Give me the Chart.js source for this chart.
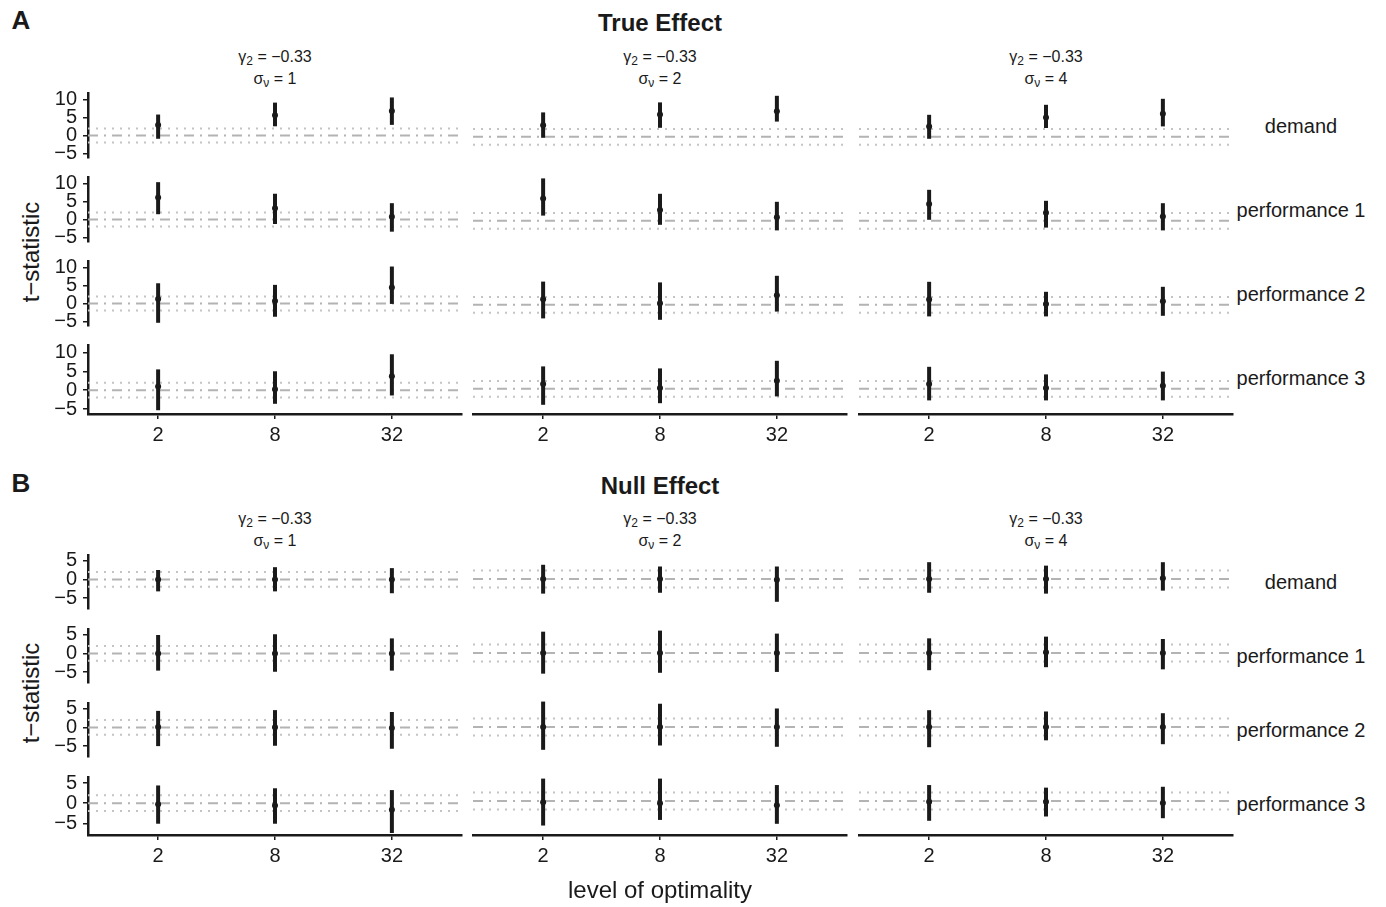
<!DOCTYPE html>
<html>
<head>
<meta charset="utf-8">
<script src="https://cdn.jsdelivr.net/npm/chart.js@4"></script>
<style>
  body { margin: 0; background: #fff; }
  #fig { position: relative; width: 1386px; height: 907px; overflow: hidden;
         font-family: "Liberation Sans", Arial, Helvetica, sans-serif; color: #1a1a1a; }
  .panel { position: absolute; }
  .lbl { position: absolute; transform: translate(-50%, -50%); white-space: nowrap; line-height: 1; }
  .tag { font-weight: bold; font-size: 26px; }
  .title { font-weight: bold; font-size: 24px; }
  .strip { font-size: 16px; }
  .strip sub { font-size: 12px; vertical-align: -3px; line-height: 0; }
  .row { font-size: 20px; }
  .axis { font-size: 24px; }
</style>
</head>
<body>
<div id="fig"></div>
<script>
// categories and facet labels
const xLabels = ['2', '8', '32'];
const rowNames = ['demand', 'performance 1', 'performance 2', 'performance 3'];
const gammaValue = '−0.33';
const sigmaValues = [1, 2, 4];
const yTicksTrue = [-5, 0, 5, 10];
const yTicksNull = [-5, 0, 5];
const critical = 1.96;

// t-statistics, indexed [column][row][level of optimality]
const trueEst = [
  [[3.0, 5.7, 6.9], [6.2, 3.2, 0.8], [1.25, 0.7, 4.5], [1.0, 0.25, 3.7]],
  [[2.9, 5.6, 6.4], [5.6, 2.7, 0.9], [1.4, 0.4, 2.4], [1.2, 0.2, 2.0]],
  [[2.6, 4.8, 5.75], [4.2, 2.0, 1.1], [1.3, 0.2, 0.9], [1.2, 0.2, 0.75]]
];
const trueLow = [
  [[-0.9, 2.6, 3.0], [1.5, -1.25, -3.4], [-5.4, -3.7, -0.1], [-5.3, -3.6, -1.4]],
  [[-0.25, 2.25, 3.8], [1.3, -1.0, -2.4], [-3.4, -3.75, -1.7], [-4.0, -3.6, -1.9]],
  [[-0.5, 2.2, 2.6], [0.25, -1.7, -2.4], [-2.9, -2.9, -2.75], [-2.9, -2.9, -2.9]]
];
const trueHigh = [
  [[5.9, 9.25, 10.7], [10.5, 7.25, 4.6], [5.7, 5.25, 10.4], [5.5, 5.0, 9.5]],
  [[6.1, 8.6, 10.25], [10.6, 6.75, 4.75], [5.8, 5.6, 7.25], [5.6, 5.1, 7.0]],
  [[5.5, 8.0, 9.5], [7.75, 5.0, 4.4], [5.75, 3.25, 4.5], [5.5, 3.6, 4.3]]
];
const nullEst = [
  [[0, 0, 0], [0, 0, 0], [0.1, 0.05, -0.15], [-0.25, -0.6, -1.6]],
  [[0, 0, -0.15], [0, 0, 0], [0, 0, 0], [-0.3, -0.55, -1.0]],
  [[0, 0, 0.15], [0, 0.15, 0], [0, 0, 0], [-0.15, -0.15, -0.45]]
];
const nullLow = [
  [[-3.2, -3.2, -3.7], [-4.6, -4.9, -4.6], [-5.0, -4.9, -5.7], [-5.1, -5.1, -7.4]],
  [[-3.4, -3.2, -5.3], [-4.8, -4.6, -4.4], [-5.3, -4.3, -4.6], [-5.7, -4.4, -5.3]],
  [[-3.2, -3.4, -2.7], [-4.0, -3.3, -3.8], [-4.7, -3.1, -4.0], [-4.6, -3.6, -4.0]]
];
const nullHigh = [
  [[2.5, 3.25, 3.0], [4.9, 5.1, 4.0], [4.4, 4.6, 4.1], [4.4, 3.7, 3.25]],
  [[3.3, 2.9, 2.9], [4.95, 5.2, 4.5], [5.9, 5.4, 4.3], [5.2, 5.2, 3.7]],
  [[3.9, 3.1, 3.9], [3.4, 3.8, 3.25], [3.9, 3.6, 3.2], [3.7, 3.1, 3.3]]
];

// layout
const INK = '#1a1a1a';
const FONT = '"Liberation Sans", Arial, Helvetica, sans-serif';
const X_MIN = -0.6, X_MAX = 2.6;
const PANEL_W = 374;
const colLefts = [88, 473, 859];
const PAD = 14, AX_W = 50, AX_H = 36;

const sections = [
  { tag: 'A', title: 'True Effect', est: trueEst, low: trueLow, high: trueHigh,
    ticks: yTicksTrue, yMin: -6.3, yMax: 11.95, top: 89, h: 73, pitch: 84,
    tagY: 20, titleY: 23, stripY: 57 },
  { tag: 'B', title: 'Null Effect', est: nullEst, low: nullLow, high: nullHigh,
    ticks: yTicksNull, yMin: -7.9, yMax: 6.5, top: 551, h: 62, pitch: 74,
    tagY: 483, titleY: 486, stripY: 519 }
];

const fig = document.getElementById('fig');

function label(html, x, y, cls, extra) {
  const d = document.createElement('div');
  d.className = 'lbl ' + cls;
  d.innerHTML = html;
  d.style.left = x + 'px';
  d.style.top = y + 'px';
  if (extra) d.style.transform = extra;
  fig.appendChild(d);
}

function hline(y, color, dash) {
  return {
    type: 'line', data: [{ x: X_MIN, y: y }, { x: X_MAX, y: y }],
    borderColor: color, borderWidth: 2, borderDash: dash, pointRadius: 0, order: 3
  };
}

const xs = xLabels.map((_, i) => i);

sections.forEach(s => {
  label(s.tag, 21, s.tagY, 'tag');
  label(s.title, 660, s.titleY, 'title');
  const panelsMid = s.top + (4 * s.pitch - (s.pitch - s.h)) / 2;
  label('t−statistic', 31, panelsMid, 'axis', 'translate(-50%, -50%) rotate(-90deg)');

  for (let c = 0; c < 3; c++) {
    const cx = colLefts[c] + PANEL_W / 2;
    label('γ<sub>2</sub> = ' + gammaValue, cx, s.stripY, 'strip');
    label('σ<sub>ν</sub> = ' + sigmaValues[c], cx, s.stripY + 22, 'strip');

    for (let r = 0; r < 4; r++) {
      const top = s.top + r * s.pitch;
      const isLeft = c === 0, isBottom = r === 3;
      const axW = isLeft ? AX_W : 0, axH = isBottom ? AX_H : 0;

      if (c === 2) label(rowNames[r], 1301, top + s.h / 2, 'row');

      const box = document.createElement('div');
      box.className = 'panel';
      box.style.left = (colLefts[c] - PAD - axW) + 'px';
      box.style.top = (top - PAD) + 'px';
      box.style.width = (PANEL_W + 2 * PAD + axW) + 'px';
      box.style.height = (s.h + 2 * PAD + axH) + 'px';
      const canvas = document.createElement('canvas');
      box.appendChild(canvas);
      fig.appendChild(box);

      const est = s.est[c][r], low = s.low[c][r], high = s.high[c][r];
      const datasets = [
        { type: 'scatter', data: xs.map(i => ({ x: i, y: est[i] })),
          pointRadius: 3, pointBackgroundColor: INK, pointBorderWidth: 0, order: 1 }
      ];
      xs.forEach(i => {
        datasets.push({
          type: 'line', data: [{ x: i, y: low[i] }, { x: i, y: high[i] }],
          borderColor: INK, borderWidth: 4, borderCapStyle: 'butt', pointRadius: 0, order: 2
        });
      });
      datasets.push(hline(0, '#b3b3b3', [10, 6, 2, 6]));
      datasets.push(hline(critical, '#c4c4c4', [2, 6]));
      datasets.push(hline(-critical, '#c4c4c4', [2, 6]));

      const tickFont = { family: FONT, size: 20 };
      new Chart(canvas, {
        type: 'scatter',
        data: { datasets: datasets },
        options: {
          responsive: true,
          maintainAspectRatio: false,
          animation: false,
          events: [],
          devicePixelRatio: 1,
          layout: { padding: PAD },
          plugins: { legend: { display: false }, tooltip: { enabled: false } },
          scales: {
            x: {
              type: 'linear', min: X_MIN, max: X_MAX, offset: false, display: isBottom,
              afterBuildTicks: sc => { sc.ticks = xs.map(v => ({ value: v })); },
              afterFit: sc => { sc.height = axH; },
              ticks: { callback: v => xLabels[v], font: tickFont, color: INK, padding: 4,
                       autoSkip: false, maxRotation: 0 },
              grid: { display: true, drawOnChartArea: false, drawTicks: true, tickLength: 5,
                      color: INK, lineWidth: 1.5 },
              border: { display: true, color: INK, width: 2.5 }
            },
            y: {
              type: 'linear', min: s.yMin, max: s.yMax, display: isLeft,
              afterBuildTicks: sc => { sc.ticks = s.ticks.map(v => ({ value: v })); },
              afterFit: sc => { sc.width = axW; },
              ticks: { callback: v => (v < 0 ? '−' + Math.abs(v) : String(v)),
                       font: tickFont, color: INK, padding: 6, autoSkip: false },
              grid: { display: true, drawOnChartArea: false, drawTicks: true, tickLength: 5,
                      color: INK, lineWidth: 1.5 },
              border: { display: true, color: INK, width: 2.5 }
            }
          }
        }
      });
    }
  }
});

label('level of optimality', 660, 890, 'axis');
</script>
</body>
</html>
